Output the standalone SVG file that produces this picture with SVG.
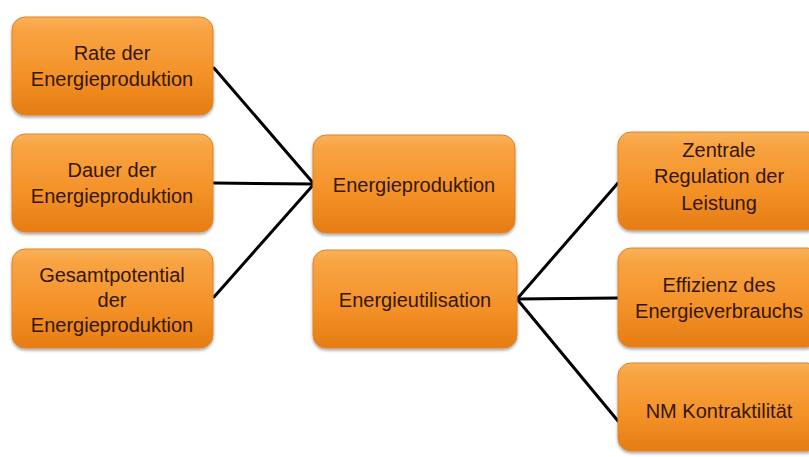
<svg xmlns="http://www.w3.org/2000/svg" width="809" height="457" viewBox="0 0 809 457">
<defs>
<linearGradient id="og" x1="0" y1="0" x2="0" y2="1">
<stop offset="0" stop-color="#f9b25a"/>
<stop offset="0.12" stop-color="#f8a443"/>
<stop offset="0.6" stop-color="#f39127"/>
<stop offset="1" stop-color="#e67c14"/>
</linearGradient>
<filter id="sh" x="-10%" y="-10%" width="120%" height="130%">
<feGaussianBlur in="SourceAlpha" stdDeviation="1.5"/>
<feOffset dx="0" dy="2" result="b"/>
<feComponentTransfer><feFuncA type="linear" slope="0.35"/></feComponentTransfer>
<feMerge><feMergeNode/><feMergeNode in="SourceGraphic"/></feMerge>
</filter>
</defs>
<style>
.box{fill:url(#og);stroke:#e0832a;stroke-width:1;filter:url(#sh)}
.t{font-family:"Liberation Sans",Arial,sans-serif;font-size:20px;fill:#351605;text-anchor:middle}
.c{stroke:#000;stroke-width:3;fill:none;stroke-linecap:round}
</style>
<rect width="809" height="457" fill="#ffffff"/>
<g id="connectors">
<line class="c" x1="214" y1="68" x2="314" y2="184"/>
<line class="c" x1="214" y1="183" x2="314" y2="184"/>
<line class="c" x1="214" y1="297" x2="314" y2="184"/>
<line class="c" x1="517" y1="299" x2="618" y2="183"/>
<line class="c" x1="517" y1="299" x2="618" y2="298"/>
<line class="c" x1="517" y1="299" x2="618" y2="421"/>
</g>
<g id="n1"><rect class="box" x="12" y="17" width="201" height="98" rx="13"/>
<text class="t" x="112" y="60">Rate der</text><text class="t" x="112" y="86">Energieproduktion</text></g>
<g id="n2"><rect class="box" x="12" y="134" width="201" height="98" rx="13"/>
<text class="t" x="112" y="177">Dauer der</text><text class="t" x="112" y="203">Energieproduktion</text></g>
<g id="n3"><rect class="box" x="12" y="249" width="201" height="99" rx="13"/>
<text class="t" x="112" y="282">Gesamtpotential</text><text class="t" x="112" y="307">der</text><text class="t" x="112" y="332">Energieproduktion</text></g>
<g id="n4"><rect class="box" x="313" y="135" width="202" height="98" rx="13"/>
<text class="t" x="414" y="192">Energieproduktion</text></g>
<g id="n5"><rect class="box" x="313" y="250" width="204" height="98" rx="13"/>
<text class="t" x="415" y="307">Energieutilisation</text></g>
<g id="n6"><rect class="box" x="618" y="132" width="202" height="98" rx="13"/>
<text class="t" x="719" y="157">Zentrale</text><text class="t" x="719" y="183">Regulation der</text><text class="t" x="719" y="210">Leistung</text></g>
<g id="n7"><rect class="box" x="618" y="248" width="202" height="99" rx="13"/>
<text class="t" x="719" y="292">Effizienz des</text><text class="t" x="719" y="318">Energieverbrauchs</text></g>
<g id="n8"><rect class="box" x="618" y="363" width="202" height="88" rx="13"/>
<text class="t" x="719" y="418">NM Kontraktilität</text></g>
</svg>
